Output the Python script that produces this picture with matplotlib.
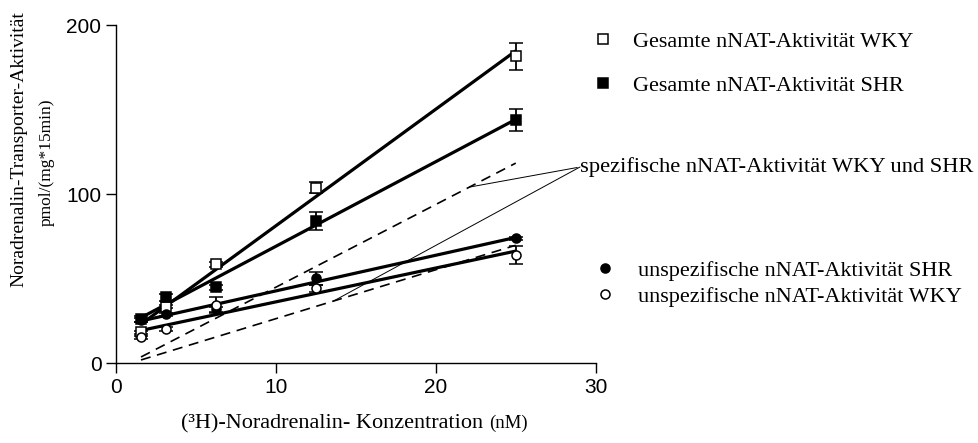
import numpy as np
import matplotlib
matplotlib.use("Agg")
import matplotlib.pyplot as plt
from matplotlib.lines import Line2D

# ---------------- data ----------------
conc = [1.5625, 3.125, 6.25, 12.5, 25.0]

total_wky = [18.3, 33.5, 58.6, 103.9, 181.8]
total_wky_err = [1.0, 1.0, 1.5, 3.2, 8.0]

total_shr = [26.2, 39.0, 45.0, 84.2, 144.0]
total_shr_err = [1.5, 2.0, 1.5, 5.5, 6.5]

unspec_shr = [25.6, 29.0, 32.0, 50.3, 74.0]
unspec_shr_err = [1.0, 1.0, 1.5, 4.0, 1.0]

unspec_wky = [15.4, 20.3, 34.5, 44.4, 64.0]
unspec_wky_err = [1.0, 1.0, 4.5, 2.0, 5.5]

label_total_wky = "Gesamte nNAT-Aktivität WKY"
label_total_shr = "Gesamte nNAT-Aktivität SHR"
label_unspec_shr = "unspezifische nNAT-Aktivität SHR"
label_unspec_wky = "unspezifische nNAT-Aktivität WKY"
label_spec = "spezifische nNAT-Aktivität WKY und SHR"

x_ticks = [0, 10, 20, 30]
y_ticks = [0, 100, 200]

# x positions along the specific-activity lines where the pointer lines end
pointer_x_wky = 22.1
pointer_x_shr = 13.6

SERIF = ["Liberation Serif", "DejaVu Serif"]
SANS = ["Liberation Sans", "DejaVu Sans"]

# ---------------- figure ----------------
W, H = 979, 443
fig = plt.figure(figsize=(W / 100, H / 100), dpi=100)
ax = fig.add_axes([116 / W, 1 - 363.3 / H, (595.7 - 116) / W, (363.3 - 25.3) / H])

x = np.array(conc)
xfit = np.array([conc[0], conc[-1]])

fits = {}
for name, ys in [("twky", total_wky), ("tshr", total_shr),
                 ("ushr", unspec_shr), ("uwky", unspec_wky)]:
    fits[name] = np.polyfit(x, np.array(ys), 1)

# regression lines (thick)
for name in ["twky", "tshr", "ushr", "uwky"]:
    ax.plot(xfit, np.polyval(fits[name], xfit), color="black", lw=2.3,
            solid_capstyle="butt", zorder=3)

# specific = total - unspecific (dashed)
spec_wky = fits["twky"] - fits["uwky"]
spec_shr = fits["tshr"] - fits["ushr"]
ax.plot(xfit, np.polyval(spec_wky, xfit), color="black", lw=1.2,
        dashes=(6, 4), zorder=2)
ax.plot(xfit, np.polyval(spec_shr, xfit), color="black", lw=1.2,
        dashes=(6, 4), zorder=2)

# data points with error bars
common = dict(ecolor="black", elinewidth=1.3, capsize=5, capthick=1.3,
              linestyle="none", markeredgecolor="black", markeredgewidth=1.1,
              zorder=4)
ax.errorbar(x, total_wky, yerr=total_wky_err, marker="s", markersize=6.5,
            markerfacecolor="white", **common)
ax.errorbar(x, total_shr, yerr=total_shr_err, marker="s", markersize=6.5,
            markerfacecolor="black", **common)
ax.errorbar(x, unspec_shr, yerr=unspec_shr_err, marker="o", markersize=6.5,
            markerfacecolor="black", **common)
ax.errorbar(x, unspec_wky, yerr=unspec_wky_err, marker="o", markersize=6.5,
            markerfacecolor="white", **common)

# axes styling
ax.set_xlim(0, 30)
ax.set_ylim(0, 200)
ax.set_xticks(x_ticks)
ax.set_yticks(y_ticks)
for s in ["top", "right"]:
    ax.spines[s].set_visible(False)
for s in ["left", "bottom"]:
    ax.spines[s].set_linewidth(1.0)
ax.tick_params(direction="out", length=7, width=1.0, labelsize=15, pad=3.5)
for lab in ax.get_xticklabels() + ax.get_yticklabels():
    lab.set_family(SANS)
ax.patch.set_visible(False)

# annotation for specific activity
anchor = (580, H - 167)
ax.annotate(label_spec, xy=(pointer_x_wky, np.polyval(spec_wky, pointer_x_wky)),
            xytext=anchor, textcoords="figure pixels", ha="left", va="center",
            fontsize=16.2, family=SERIF,
            arrowprops=dict(arrowstyle="-", lw=0.7, color="black",
                            relpos=(0, 0.5), shrinkA=0, shrinkB=0))
ax.annotate("", xy=(pointer_x_shr, np.polyval(spec_shr, pointer_x_shr)),
            xytext=anchor, textcoords="figure pixels",
            arrowprops=dict(arrowstyle="-", lw=0.7, color="black",
                            shrinkA=0, shrinkB=0))

# legends
def mk(marker, face):
    return Line2D([], [], linestyle="none", marker=marker, markersize=6.5,
                  markerfacecolor=face, markeredgecolor="black",
                  markeredgewidth=1.1)

leg1 = fig.legend([mk("s", "white"), mk("s", "black")],
                  [label_total_wky, label_total_shr],
                  loc="upper left", bbox_to_anchor=(592 / W, 1 - 31 / H),
                  frameon=False, handlelength=1.0, handletextpad=0.85,
                  borderpad=0, borderaxespad=0, labelspacing=1.07,
                  prop={"family": SERIF, "size": 16})
leg2 = fig.legend([mk("o", "black"), mk("o", "white")],
                  [label_unspec_shr, label_unspec_wky],
                  loc="upper left", bbox_to_anchor=(594 / W, 1 - 260 / H),
                  frameon=False, handlelength=1.0, handletextpad=1.0,
                  borderpad=0, borderaxespad=0, labelspacing=0.25,
                  prop={"family": SERIF, "size": 16})

# y label (two lines)
fig.text(19 / W, 1 - 149 / H, "Noradrenalin-Transporter-Aktivität",
         rotation=90, ha="center", va="center", fontsize=14, family=SERIF)
fig.text(47 / W, 1 - 162 / H, "pmol/(mg*15min)",
         rotation=90, ha="center", va="center", fontsize=12.5, family=SERIF)

# x label with smaller unit
renderer = fig.canvas.get_renderer()
t1 = fig.text(181 / W, 1 - 428 / H, "(³H)-Noradrenalin- Konzentration ",
              ha="left", va="baseline", fontsize=16, family=SERIF)
bb = t1.get_window_extent(renderer)
fig.text(bb.x1 / W, 1 - 428 / H, "(nM)", ha="left", va="baseline",
         fontsize=13.5, family=SERIF)

fig.savefig("out.png", dpi=100)
